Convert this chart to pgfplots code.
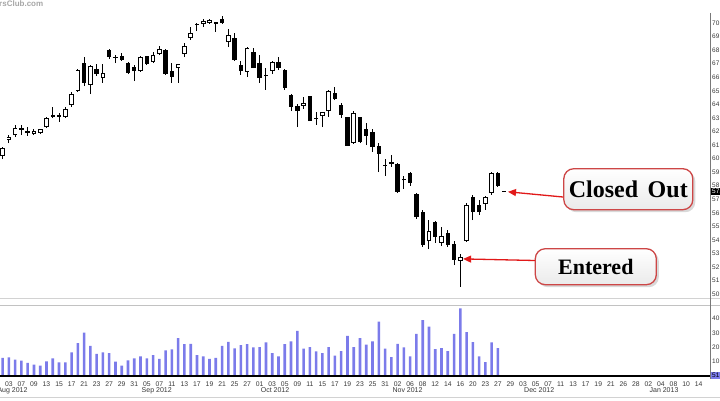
\documentclass[border=0pt]{standalone}
\usepackage{pgfplots}
\pgfplotsset{compat=1.18}
\usepackage{pgfplotstable}
\usepackage{fontspec}
\setmainfont{Liberation Sans}
\newfontfamily\calloutfont{Liberation Serif}
\usetikzlibrary{shadows,arrows.meta}
\definecolor{volblue}{RGB}{123,123,234}
\definecolor{axgray}{RGB}{120,120,120}
\definecolor{linegray}{RGB}{210,210,210}
\definecolor{arrowred}{RGB}{225,25,25}
\definecolor{boxred}{RGB}{205,70,70}
\definecolor{txtgray}{RGB}{55,55,55}

% up (white) candles: i high low bottom top
\pgfplotstableread{
i h l b t
1 60.86 59.97 60.19 60.78
2 61.74 61.15 61.37 61.59
3 62.48 61.59 61.74 62.26
6 62.18 61.74 61.81 62.04
7 62.18 61.81 61.89 62.18
8 63.07 62.26 62.33 62.99
11 63.81 62.99 63.07 63.66
12 64.91 63.81 63.95 64.76
13 66.61 64.91 64.99 66.53
15 66.90 64.76 65.43 66.83
17 66.98 65.58 65.94 66.31
23 67.57 66.39 66.46 67.49
25 67.86 67.05 67.12 67.64
26 68.30 67.64 67.71 68.08
29 66.98 65.58 66.68 66.98
30 68.53 67.49 67.71 68.30
31 69.70 68.75 68.89 69.26
33 70.30 69.71 69.93 70.15
34 70.30 69.93 70.00 70.22
37 69.56 68.23 68.60 69.12
40 68.23 66.02 66.39 68.16
44 67.20 66.24 66.46 67.12
49 64.54 63.66 63.88 64.10
52 63.44 62.33 63.14 63.44
53 65.06 63.07 63.51 64.99
57 63.51 61.08 61.15 63.36
69 55.47 53.33 53.92 54.66
71 54.96 53.55 53.78 54.29
74 52.96 50.53 52.45 52.74
75 56.73 53.85 53.92 56.58
78 57.24 56.21 56.65 57.17
79 59.01 57.32 57.46 58.94
}\upc

% down (black) candles: i high low bottom top
\pgfplotstableread{
i h l b t
4 62.48 61.74 62.11 62.26
5 62.33 61.67 61.92 62.00
9 63.81 62.99 63.10 63.18
10 63.36 62.70 63.10 63.18
14 67.49 65.35 65.58 67.05
16 66.98 66.09 66.24 66.61
18 68.08 67.35 67.49 68.01
19 67.64 67.05 67.46 67.53
20 67.79 67.20 67.27 67.57
21 67.12 66.24 66.31 67.05
22 66.90 65.72 66.46 66.76
24 67.57 66.90 66.98 67.57
27 68.08 66.17 66.24 68.01
28 67.05 65.58 66.02 66.46
32 70.00 69.41 69.89 69.96
35 70.07 69.34 69.96 70.04
36 70.52 69.93 70.00 70.30
38 69.26 67.20 67.27 68.89
39 67.20 66.17 66.46 66.90
41 68.16 66.68 66.68 67.86
42 67.64 65.58 65.94 67.05
43 66.68 65.06 66.13 66.20
45 67.49 66.53 66.68 67.12
46 66.61 65.06 65.21 66.53
47 64.76 63.51 63.81 64.69
48 64.03 62.33 63.51 63.88
50 64.62 62.77 62.77 64.62
51 63.44 62.48 62.96 63.03
54 65.28 64.32 64.40 64.84
55 64.10 62.99 63.22 63.95
56 63.07 60.93 60.93 63.07
58 63.07 61.15 61.22 63.07
59 62.63 61.00 61.67 62.18
60 62.18 60.49 60.86 61.96
61 61.15 59.01 60.34 60.93
62 59.97 58.72 59.45 59.53
63 60.27 59.38 59.60 59.75
64 59.68 57.46 57.54 59.60
65 58.72 57.76 58.39 58.46
66 59.01 57.98 58.20 58.94
67 57.46 55.55 55.69 57.39
68 56.21 53.48 53.63 56.06
70 55.40 53.78 54.22 55.32
72 54.73 53.48 53.63 54.51
73 53.92 52.15 52.52 53.70
76 57.32 55.47 56.06 57.17
77 56.95 55.84 56.06 56.58
80 59.01 57.91 57.98 58.94
81 57.61 57.54 57.54 57.61
}\downc

\pgfplotstableread{
i v
1 12.6
2 13.0
3 11.4
4 10.8
5 9.2
6 8.0
7 7.3
8 10.3
9 12.3
10 9.6
11 9.6
12 16.4
13 22.9
14 30.1
15 21.0
16 15.5
17 16.4
18 16.0
19 10.0
20 7.3
21 11.0
22 12.3
23 13.7
24 12.3
25 14.6
26 11.9
27 17.8
28 18.5
29 26.3
30 22.2
31 22.4
32 14.6
33 13.7
34 11.9
35 12.6
36 21.0
37 23.8
38 19.2
39 21.5
40 22.2
41 19.9
42 20.1
43 23.3
44 16.0
45 13.7
46 22.2
47 24.0
48 31.3
49 19.0
50 20.1
51 17.1
52 16.0
53 20.1
54 14.2
55 17.4
56 27.9
57 20.1
58 26.3
59 21.9
60 24.0
61 37.7
62 19.0
63 13.2
64 22.4
65 19.9
66 13.7
67 29.2
68 38.8
69 34.2
70 18.7
71 19.4
72 17.4
73 29.2
74 46.8
75 30.4
76 23.5
77 13.7
78 9.8
79 23.3
80 19.4
}\vol

\begin{document}
\begin{tikzpicture}
\path[use as bounding box] (0pt,0pt) rectangle (720pt,400pt);

% panel separator lines
\draw[linegray, line width=0.8pt] (0pt,102pt) -- (720pt,102pt);
\draw[linegray!80!gray, line width=0.8pt] (0pt,94.5pt) -- (720pt,94.5pt);
\draw[linegray, line width=0.8pt] (0pt,3pt) -- (720pt,3pt);
\draw[axgray, line width=0.8pt] (710pt,387pt) -- (710pt,21pt);

% watermark
\node[anchor=north west, inner sep=0pt, text=gray!70, font=\bfseries\fontsize{8}{9}\selectfont] at (-1pt,399pt) {rsClub.com};

% ---------- price panel ----------
\begin{axis}[
  at={(0pt,103pt)}, anchor=south west,
  width=710pt, height=284pt, scale only axis,
  xmin=0.585, xmax=113.82, ymin=49.79, ymax=70.74,
  axis line style={draw=none},
  xtick=\empty,
  ytick={50,51,...,70},
  yticklabel pos=right,
  major tick length=0pt,
  yticklabel style={font=\fontsize{6.5}{7}\selectfont, text=txtgray, anchor=west, inner sep=2pt},
  /pgf/number format/assume math mode=true,
  clip=false,
]
% wicks
\addplot[-, black, line width=1pt, quiver={u=0, v={\thisrow{h}-\thisrow{l}}}] table[x=i, y=l] {\upc};
\addplot[-, black, line width=1pt, quiver={u=0, v={\thisrow{h}-\thisrow{l}}}] table[x=i, y=l] {\downc};
% black bodies
\addplot[-, black, line width=4.4pt, quiver={u=0, v={\thisrow{t}-\thisrow{b}}}] table[x=i, y=b] {\downc};
% white bodies
\addplot[-, black, line width=4.6pt, quiver={u=0, v={\thisrow{t}-\thisrow{b}}}] table[x=i, y=b] {\upc};
\addplot[-, white, line width=2.8pt, quiver={u=0, v={max(\thisrow{t}-\thisrow{b}-0.13,0.001)}}] table[x=i, y expr=\thisrow{b}+0.065] {\upc};
\coordinate (tipC) at (axis cs:81.6,57.55);
\coordinate (tipE) at (axis cs:74.45,52.6);
\end{axis}

% current price marker
\fill[black] (710.5pt,205pt) rectangle (730pt,212.5pt);
\node[anchor=west, inner sep=0pt, text=white, font=\fontsize{6.5}{7}\selectfont] at (712pt,208.7pt) {57.61};

% callouts
\node[draw=boxred, line width=1.3pt, rounded corners=10pt, top color=white, bottom color=gray!16,
      drop shadow={shadow xshift=2.5pt, shadow yshift=-2.5pt, opacity=0.3, fill=gray},
      minimum width=129pt, minimum height=41pt, inner sep=0pt,
      font=\calloutfont\bfseries\fontsize{24}{26}\selectfont] at (628.3pt,210.8pt) {Closed\hspace{0.4em}Out};
\draw[arrowred, line width=1.3pt, -{Triangle[length=8pt, width=7pt]}] (563pt,203pt) -- (tipC);

\node[draw=boxred, line width=1.3pt, rounded corners=10pt, top color=white, bottom color=gray!16,
      drop shadow={shadow xshift=2.5pt, shadow yshift=-2.5pt, opacity=0.3, fill=gray},
      minimum width=121pt, minimum height=36pt, inner sep=0pt,
      font=\calloutfont\bfseries\fontsize{22}{24}\selectfont] at (595.8pt,133.3pt) {Entered};
\draw[arrowred, line width=1.3pt, -{Triangle[length=8pt, width=7pt]}] (535pt,139.5pt) -- (tipE);

% ---------- volume panel ----------
\begin{axis}[
  at={(0pt,23.8pt)}, anchor=south west,
  width=710pt, height=70.2pt, scale only axis,
  xmin=0.585, xmax=113.82, ymin=0, ymax=48.5,
  axis line style={draw=none},
  xtick={0,2,...,112},
  xticklabels={01,03,07,09,13,15,17,21,23,27,29,31,05,07,11,13,17,19,21,25,27,01,03,05,09,11,15,17,19,23,25,31,02,06,08,12,14,16,20,23,27,29,03,05,07,11,13,17,19,21,26,28,02,04,08,10,14},
  xticklabel style={font=\fontsize{6.8}{8}\selectfont, text=txtgray, anchor=base, yshift=-9.8pt},
  ytick={10,20,30,40},
  yticklabel pos=right,
  yticklabel style={font=\fontsize{6.5}{7}\selectfont, text=txtgray, anchor=west, inner sep=2pt},
  major tick length=0pt,
  /pgf/number format/assume math mode=true,
  clip=false,
]
\addplot[ybar, bar width=2.6pt, bar shift=0pt, fill=volblue, draw=none] table[x=i, y=v] {\vol};
\draw[black, line width=2.4pt] (rel axis cs:0,0) -- (rel axis cs:1,0);
\foreach \d/\m in {0/Aug 2012, 23/Sep 2012, 42/Oct 2012, 63/Nov 2012, 84/Dec 2012, 104/Jan 2013} {
  \edef\temp{\noexpand\node[anchor=base west, inner sep=0pt, xshift=1pt, yshift=-16.5pt, text=txtgray, font=\noexpand\fontsize{7}{8}\noexpand\selectfont] at (axis cs:\d,0) {\m};}
  \temp
}
\end{axis}

% current volume marker
\fill[volblue] (710.5pt,21pt) rectangle (730pt,28pt);
\node[anchor=west, inner sep=0pt, text=black, font=\fontsize{6.5}{7}\selectfont] at (712pt,24.5pt) {51};
\end{tikzpicture}
\end{document}
